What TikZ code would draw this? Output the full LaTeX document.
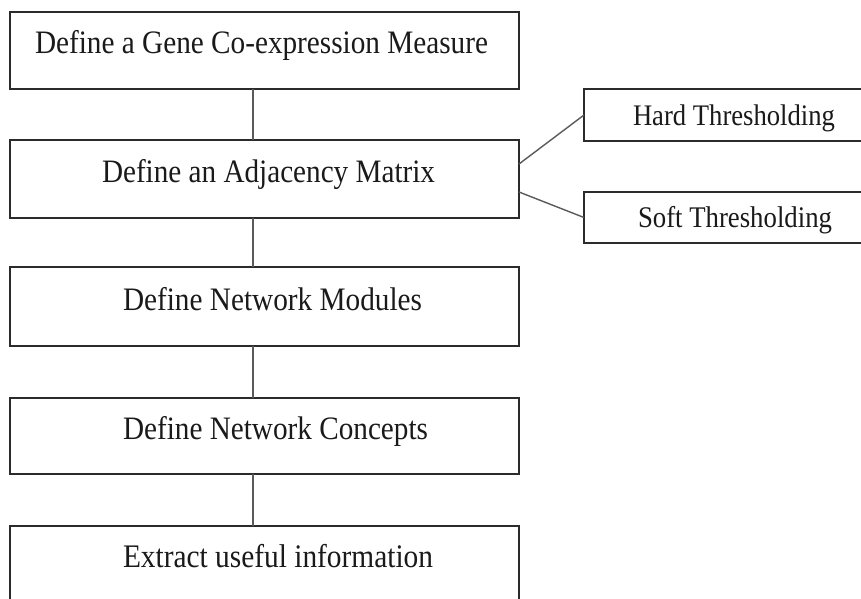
\documentclass[tikz,border=0pt]{standalone}
\usepackage{fontspec}
\setmainfont{Liberation Serif}
\usepackage{graphicx}
\definecolor{boxline}{HTML}{2B2B2B}
\definecolor{connline}{HTML}{5A5A5A}
\definecolor{txtcol}{HTML}{1A1A1A}
\newcommand\tfit[2]{\scalebox{1}[1.12]{\resizebox{#1}{!}{#2}}}
\begin{document}
\begin{tikzpicture}[x=1pt,y=-1pt,
  boxnode/.style={draw=boxline, line width=1.3pt, rectangle, inner sep=0pt, outer sep=0pt, anchor=north west},
  conn/.style={draw=connline, line width=1.4pt},
  txt/.style={inner sep=0pt, outer sep=0pt, anchor=base west, text=txtcol, font=\fontsize{28}{30}\selectfont}]
\useasboundingbox (0,0) rectangle (861,598);
\fill[white] (0,0) rectangle (861,598);
\clip (0,0) rectangle (861,598);
% left column boxes
\node[boxnode, minimum width=509pt, minimum height=77pt] (b1) at (10,12) {};
\node[boxnode, minimum width=509pt, minimum height=78pt] (b2) at (10,140) {};
\node[boxnode, minimum width=509pt, minimum height=79pt] (b3) at (10,267) {};
\node[boxnode, minimum width=509pt, minimum height=76pt] (b4) at (10,398) {};
\node[boxnode, minimum width=509pt, minimum height=77pt] (b5) at (10,526) {};
% right boxes
\node[boxnode, minimum width=300pt, minimum height=52pt] (hard) at (584,89) {};
\node[boxnode, minimum width=300pt, minimum height=51pt] (soft) at (584,192) {};
% texts
\node[txt] (t1) at (35,53) {\tfit{453pt}{Define a Gene Co-expression Measure}};
\node[txt] (t2) at (102,182) {\tfit{333pt}{Define an Adjacency Matrix}};
\node[txt] (t3) at (123,310) {\tfit{299pt}{Define Network Modules}};
\node[txt] (t4) at (123,439) {\tfit{305pt}{Define Network Concepts}};
\node[txt] (t5) at (123,567) {\tfit{310pt}{Extract useful information}};
\node[txt] (th) at (633,125) {\tfit{202pt}{Hard Thresholding}};
\node[txt] (ts) at (638,227) {\tfit{194pt}{Soft Thresholding}};
% connectors
\coordinate (vx) at (253,0);
\draw[conn] (b1.south -| vx) -- (b2.north -| vx);
\draw[conn] (b2.south -| vx) -- (b3.north -| vx);
\draw[conn] (b3.south -| vx) -- (b4.north -| vx);
\draw[conn] (b4.south -| vx) -- (b5.north -| vx);
\draw[conn] ([yshift=15pt]b2.east) -- (hard.west);
\draw[conn] ([yshift=-13pt]b2.east) -- (soft.west);
\end{tikzpicture}
\end{document}
